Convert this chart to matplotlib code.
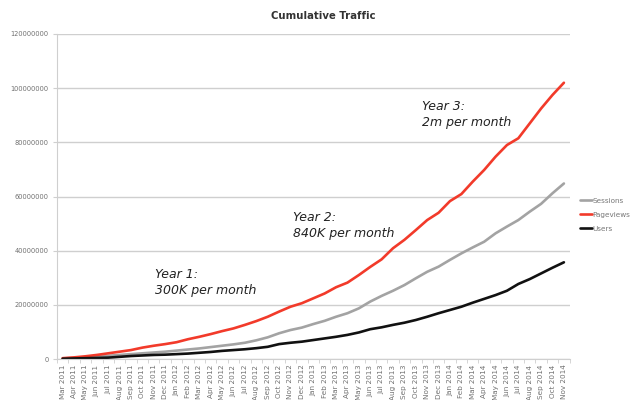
import matplotlib
matplotlib.use("Agg")
import matplotlib.pyplot as plt
import numpy as np

months = ["Mar 2011", "Apr 2011", "May 2011", "Jun 2011", "Jul 2011", "Aug 2011", "Sep 2011",
          "Oct 2011", "Nov 2011", "Dec 2011", "Jan 2012", "Feb 2012", "Mar 2012", "Apr 2012",
          "May 2012", "Jun 2012", "Jul 2012", "Aug 2012", "Sep 2012", "Oct 2012", "Nov 2012",
          "Dec 2012", "Jan 2013", "Feb 2013", "Mar 2013", "Apr 2013", "May 2013", "Jun 2013",
          "Jul 2013", "Aug 2013", "Sep 2013", "Oct 2013", "Nov 2013", "Dec 2013", "Jan 2014",
          "Feb 2014", "Mar 2014", "Apr 2014", "May 2014", "Jun 2014", "Jul 2014", "Aug 2014",
          "Sep 2014", "Oct 2014", "Nov 2014"]

pageviews = [0.3, 0.6, 1.0, 1.5, 2.1, 2.7, 3.3, 4.2, 4.9, 5.5, 6.2, 7.3, 8.2, 9.2, 10.3,
             11.3, 12.6, 14.0, 15.6, 17.5, 19.3, 20.6, 22.4, 24.2, 26.5, 28.2, 31.0, 34.0,
             36.8, 40.9, 44.0, 47.6, 51.3, 54.0, 58.3, 60.9, 65.5, 69.8, 74.7, 79.0, 81.5,
             87.0, 92.5, 97.5, 102.0]
sessions = [0.2, 0.4, 0.6, 0.9, 1.2, 1.5, 1.8, 2.1, 2.4, 2.7, 3.1, 3.5, 3.9, 4.4, 4.9,
            5.4, 6.0, 6.9, 8.0, 9.5, 10.7, 11.6, 12.9, 14.1, 15.6, 16.9, 18.7, 21.2, 23.3,
            25.2, 27.3, 29.8, 32.2, 34.1, 36.6, 39.0, 41.2, 43.3, 46.4, 48.9, 51.3, 54.4,
            57.3, 61.2, 64.8]
users = [0.1, 0.2, 0.3, 0.4, 0.5, 0.8, 1.1, 1.3, 1.5, 1.6, 1.8, 2.0, 2.3, 2.6, 3.0,
         3.3, 3.6, 4.0, 4.5, 5.5, 6.0, 6.4, 7.0, 7.6, 8.2, 8.9, 9.8, 11.0, 11.7, 12.6,
         13.4, 14.4, 15.6, 16.9, 18.1, 19.3, 20.8, 22.2, 23.6, 25.2, 27.7, 29.5, 31.6,
         33.7, 35.7]

scale = 1e6
x = np.arange(len(months))

fig = plt.figure(figsize=(6.4, 4.0), dpi=100)
ax = fig.add_axes([0.089, 0.1025, 0.801, 0.8125])

tick_color = "#707070"
grid_color = "#cfcfcf"

ax.plot(x, np.array(sessions) * scale, color="#a3a3a3", lw=1.9, label="Sessions", solid_capstyle="round")
ax.plot(x, np.array(pageviews) * scale, color="#f23a2a", lw=1.9, label="Pageviews", solid_capstyle="round")
ax.plot(x, np.array(users) * scale, color="#111111", lw=1.9, label="Users", solid_capstyle="round")

ax.set_ylim(0, 120e6)
ax.set_xlim(-0.5, len(months) - 0.5)
ax.set_yticks(np.arange(0, 120e6 + 1, 20e6))
ax.set_yticklabels([f"{int(v)}" for v in np.arange(0, 120e6 + 1, 20e6)], fontsize=4.8, color=tick_color)
ax.yaxis.grid(True, color=grid_color, lw=1.0)
ax.set_axisbelow(True)
ax.set_xticks(x)
ax.set_xticklabels(months, rotation=90, fontsize=5.2, color=tick_color)
ax.tick_params(axis="x", length=0, pad=4)
ax.tick_params(axis="y", length=3, color=grid_color, pad=3)
ax.set_xticks(np.arange(-0.5, len(months), 1), minor=True)
ax.tick_params(axis="x", which="minor", length=3, color=grid_color)
for s in ["top", "right"]:
    ax.spines[s].set_visible(False)
ax.spines["left"].set_color(grid_color)
ax.spines["bottom"].set_color(grid_color)

fig.text(0.505, 0.96, "Cumulative Traffic", ha="center", va="center", fontsize=7.3, fontweight="bold", color="#333333")

ann_kw = dict(fontsize=9, style="italic", color="#222222", transform=ax.transData, linespacing=1.3)
ax.text(8.1, 23.0e6, "Year 1:\n300K per month", va="bottom", ha="left", **ann_kw)
ax.text(20.2, 44e6, "Year 2:\n840K per month", va="bottom", ha="left", **ann_kw)
ax.text(31.5, 85e6, "Year 3:\n2m per month", va="bottom", ha="left", **ann_kw)

leg = ax.legend(loc="upper left", bbox_to_anchor=(1.015, 0.505), frameon=False, fontsize=5.2,
                handlelength=1.6, handletextpad=0.1, labelspacing=1.1, borderaxespad=0)
for t in leg.get_texts():
    t.set_color("#777777")

fig.savefig("out.png", dpi=100)
